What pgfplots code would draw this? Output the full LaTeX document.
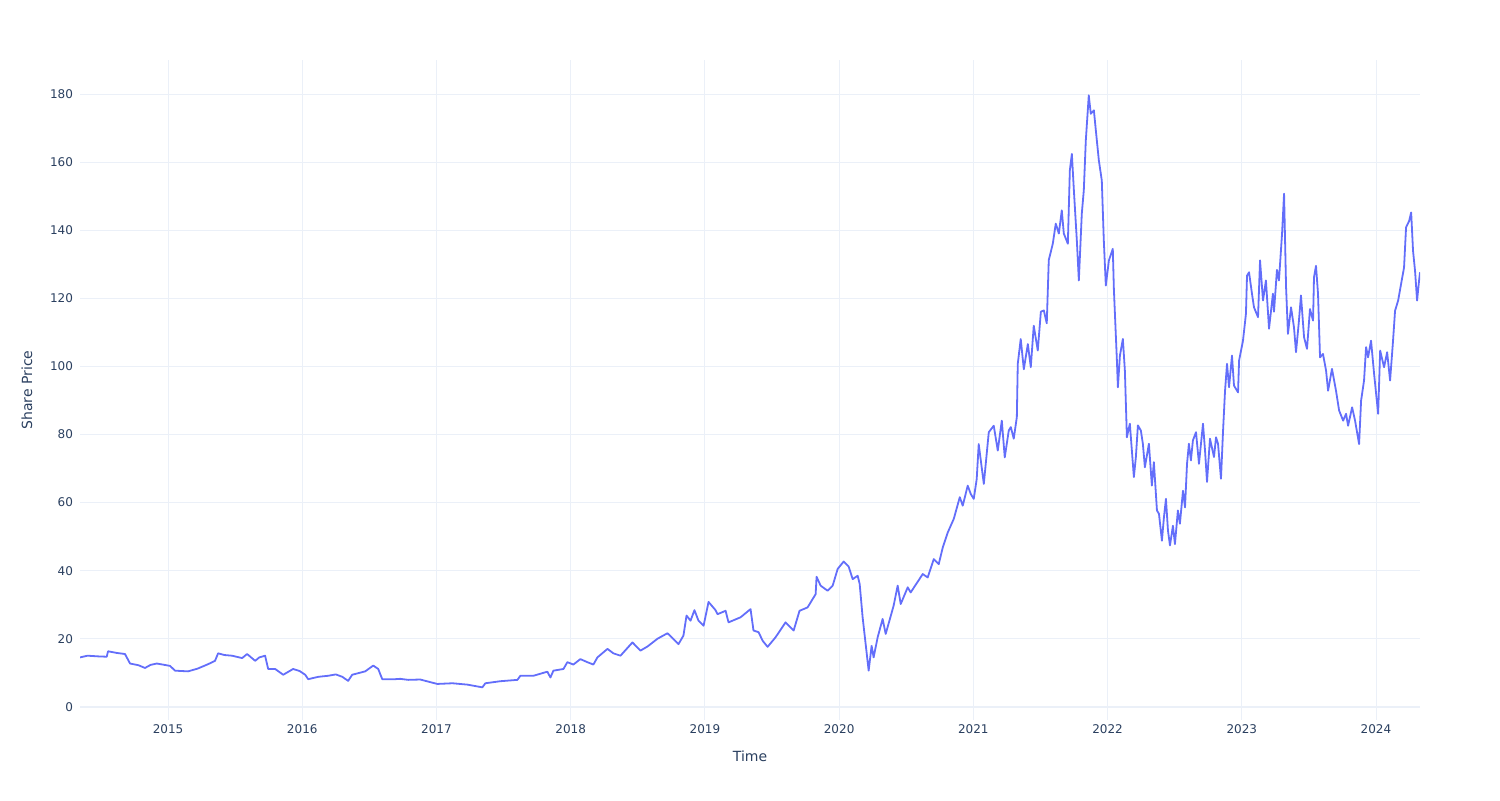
\documentclass[border=0pt]{standalone}
\usepackage{fontspec}
\setmainfont{DejaVu Sans}
\usepackage{pgfplots}
\pgfplotsset{compat=1.18}
\definecolor{txt}{HTML}{2A3F5F}
\definecolor{gridc}{HTML}{EBF0F8}
\definecolor{linec}{HTML}{636EFA}
\begin{document}
\begin{tikzpicture}
\path[use as bounding box] (0,0) rectangle (750pt,400pt);
\begin{axis}[
  at={(40pt,40pt)}, anchor=south west,
  scale only axis, width=670pt, height=330pt,
  xmin=2014.344, xmax=2024.328, ymin=-3.9, ymax=190.1,
  axis line style={draw=none},
  major tick length=0pt,
  xtick={2015,2016,2017,2018,2019,2020,2021,2022,2023,2024},
  xticklabels={2015,2016,2017,2018,2019,2020,2021,2022,2023,2024},
  ytick={0,20,40,60,80,100,120,140,160,180},
  extra y ticks={0}, extra y tick labels={},
  extra y tick style={grid style={color=gridc, line width=1pt}},
  grid=major,
  grid style={color=gridc, line width=0.5pt},
  /pgf/number format/assume math mode=true,
  tick label style={font=\fontsize{6}{7}\selectfont, text=txt},
  xticklabel style={yshift=1pt},
  yticklabel style={xshift=0pt},
  xlabel={Time}, ylabel={Share Price},
  label style={font=\fontsize{7}{8}\selectfont, text=txt},
  xlabel style={at={(axis description cs:0.5,-0.0545)}, anchor=center},
  ylabel style={at={(axis description cs:-0.0396,0.5)}, anchor=center, rotate=0},
]
\addplot[color=linec, line width=0.9pt, line join=round, mark=none] coordinates {
(2014.344,14.5)(2014.40,15.0)(2014.48,14.8)(2014.543,14.7)(2014.553,16.3)(2014.62,15.8)(2014.679,15.5)
(2014.717,12.7)(2014.78,12.2)(2014.828,11.4)(2014.87,12.3)(2014.916,12.7)(2014.96,12.4)(2015.015,12.0)
(2015.052,10.6)(2015.149,10.4)(2015.22,11.2)(2015.298,12.5)(2015.350,13.5)(2015.373,15.7)(2015.42,15.2)
(2015.477,15.0)(2015.552,14.3)(2015.589,15.5)(2015.649,13.5)(2015.68,14.5)(2015.723,15.0)(2015.746,11.1)
(2015.798,11.1)(2015.858,9.4)(2015.932,11.1)(2015.98,10.5)(2016.022,9.4)(2016.044,8.1)(2016.12,8.8)
(2016.193,9.1)(2016.25,9.5)(2016.298,8.8)(2016.342,7.6)(2016.372,9.4)(2016.469,10.4)(2016.529,12.1)
(2016.566,11.1)(2016.596,8.1)(2016.693,8.1)(2016.730,8.2)(2016.790,7.9)(2016.879,8.0)(2017.006,6.7)
(2017.12,6.9)(2017.230,6.5)(2017.342,5.7)(2017.364,6.9)(2017.476,7.5)(2017.603,7.9)(2017.625,9.1)
(2017.722,9.1)(2017.826,10.3)(2017.849,8.6)(2017.871,10.6)(2017.946,11.1)(2017.975,13.1)(2018.020,12.4)
(2018.072,14.0)(2018.124,13.1)(2018.169,12.4)(2018.199,14.5)(2018.274,17.0)(2018.318,15.7)(2018.371,15.0)
(2018.460,18.9)(2018.520,16.5)(2018.572,17.7)(2018.647,20.0)(2018.721,21.6)(2018.758,20.2)(2018.803,18.4)
(2018.840,20.9)(2018.863,26.8)(2018.893,25.3)(2018.922,28.4)(2018.952,25.3)(2018.990,23.8)(2019.027,30.8)
(2019.079,28.4)(2019.094,27.2)(2019.154,28.2)(2019.176,24.8)(2019.266,26.3)(2019.340,28.7)(2019.362,22.4)
(2019.400,21.9)(2019.430,19.4)(2019.467,17.6)(2019.526,20.4)(2019.601,24.8)(2019.661,22.4)(2019.705,28.2)
(2019.765,29.2)(2019.825,33.1)(2019.832,38.2)(2019.862,35.6)(2019.914,34.1)(2019.952,35.6)(2019.989,40.5)
(2020.034,42.7)(2020.071,41.2)(2020.101,37.5)(2020.138,38.5)(2020.153,36.1)(2020.175,26.3)(2020.220,10.6)
(2020.242,17.9)(2020.257,14.5)(2020.287,20.4)(2020.324,25.8)(2020.347,21.4)(2020.406,29.7)(2020.436,35.6)
(2020.459,30.2)(2020.511,35.1)(2020.533,33.6)(2020.623,39.0)(2020.660,38.0)(2020.705,43.4)(2020.742,41.9)
(2020.772,46.8)(2020.809,51.2)(2020.854,55.2)(2020.899,61.6)(2020.921,59.1)(2020.958,65.0)(2020.981,62.5)
(2021.003,61.1)(2021.025,66.9)(2021.040,77.2)(2021.078,65.5)(2021.115,80.7)(2021.152,82.6)(2021.182,75.3)
(2021.212,84.1)(2021.234,73.3)(2021.264,81.2)(2021.279,82.2)(2021.301,78.8)(2021.324,85.1)(2021.331,100.8)
(2021.353,108.1)(2021.376,99.2)(2021.406,106.6)(2021.428,99.8)(2021.450,112.0)(2021.480,104.7)(2021.503,116.1)
(2021.525,116.5)(2021.547,112.7)(2021.562,131.3)(2021.592,136.1)(2021.614,142.0)(2021.637,139.1)(2021.659,145.9)
(2021.674,139.1)(2021.704,136.1)(2021.719,157.7)(2021.734,162.5)(2021.749,151.8)(2021.771,137.1)(2021.786,125.3)
(2021.808,144.9)(2021.823,151.8)(2021.838,166.5)(2021.860,179.7)(2021.875,174.3)(2021.898,175.3)(2021.920,166.5)
(2021.935,160.6)(2021.957,154.7)(2021.972,137.1)(2021.987,123.8)(2022.010,131.2)(2022.039,134.6)(2022.047,122.8)
(2022.069,102.3)(2022.077,93.9)(2022.092,103.2)(2022.114,108.1)(2022.129,98.8)(2022.144,79.2)(2022.166,83.2)
(2022.196,67.5)(2022.211,73.4)(2022.226,82.7)(2022.248,81.2)(2022.263,77.3)(2022.278,70.4)(2022.308,77.3)
(2022.330,65.0)(2022.345,71.9)(2022.368,57.7)(2022.383,56.7)(2022.405,48.8)(2022.420,55.7)(2022.435,61.1)
(2022.450,51.8)(2022.465,47.4)(2022.487,53.2)(2022.502,47.8)(2022.524,57.7)(2022.539,53.8)(2022.562,63.5)
(2022.577,58.6)(2022.592,71.4)(2022.606,77.3)(2022.621,72.4)(2022.636,78.3)(2022.659,80.7)(2022.681,71.4)
(2022.711,83.2)(2022.726,75.4)(2022.741,66.1)(2022.763,78.8)(2022.793,73.4)(2022.808,79.2)(2022.823,77.3)
(2022.845,67.0)(2022.860,80.7)(2022.875,92.7)(2022.890,100.8)(2022.905,93.9)(2022.927,103.2)(2022.942,94.4)
(2022.972,92.4)(2022.980,101.8)(2023.009,107.6)(2023.031,115.5)(2023.039,126.7)(2023.054,127.7)(2023.076,121.4)
(2023.091,117.4)(2023.121,114.5)(2023.136,131.2)(2023.158,119.4)(2023.180,125.3)(2023.203,111.1)(2023.232,121.4)
(2023.240,116.1)(2023.262,128.4)(2023.277,125.3)(2023.300,139.0)(2023.315,150.8)(2023.330,123.3)(2023.344,109.6)
(2023.367,117.4)(2023.389,111.5)(2023.404,104.2)(2023.426,113.5)(2023.441,120.9)(2023.464,108.6)(2023.486,105.2)
(2023.508,116.9)(2023.531,113.5)(2023.538,126.2)(2023.553,129.6)(2023.568,121.4)(2023.583,102.7)(2023.605,103.7)
(2023.628,98.8)(2023.643,92.9)(2023.672,99.3)(2023.702,92.9)(2023.725,87.1)(2023.755,84.1)(2023.777,86.1)
(2023.792,82.6)(2023.822,88.0)(2023.844,84.1)(2023.874,77.2)(2023.889,90.0)(2023.911,95.9)(2023.926,105.7)
(2023.941,102.7)(2023.963,107.6)(2023.986,97.8)(2024.016,86.1)(2024.031,104.7)(2024.060,99.8)(2024.083,104.2)
(2024.105,95.9)(2024.127,107.6)(2024.142,116.4)(2024.165,119.4)(2024.187,124.3)(2024.209,129.1)(2024.224,140.9)
(2024.247,142.8)(2024.262,145.3)(2024.276,134.0)(2024.291,128.1)(2024.306,119.4)(2024.321,125.3)(2024.328,127.7)
};
\end{axis}
\end{tikzpicture}
\end{document}
